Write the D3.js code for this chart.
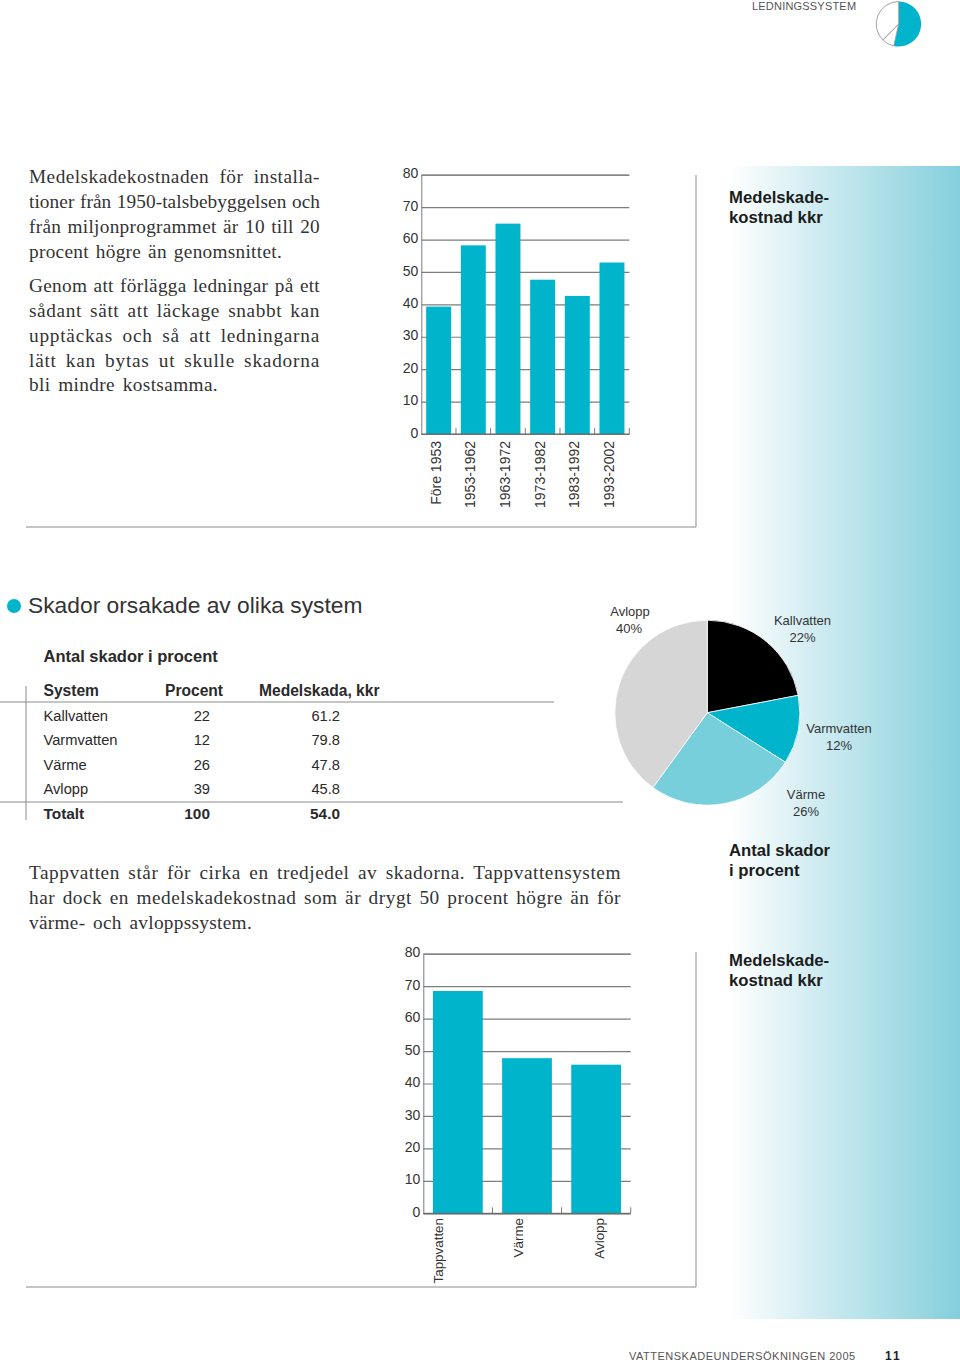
<!DOCTYPE html>
<html><head><meta charset="utf-8">
<script src="https://cdn.jsdelivr.net/npm/d3@7"></script>
<style>html,body{margin:0;padding:0;background:#fff}svg{display:block}
text{font-family:"Liberation Sans",Arial,sans-serif;fill:#2a2a2a}</style></head>
<body><div id="c"></div>
<script>
const periods=["Före 1953","1953-1962","1963-1972","1973-1982","1983-1992","1993-2002"];
const periodCost=[39.3,58.2,64.9,47.6,42.6,52.9];
const systems=["Tappvatten","Värme","Avlopp"];
const systemCost=[68.5,47.8,45.8];
const yTicks=[0,10,20,30,40,50,60,70,80];
const tableHead=["System","Procent","Medelskada, kkr"];
const tableNames=["Kallvatten","Varmvatten","Värme","Avlopp"];
const tablePct=[22,12,26,39];
const tableCost=["61.2","79.8","47.8","45.8"];
const tableTotal=["Totalt","100","54.0"];
const pieNames=["Kallvatten","Varmvatten","Värme","Avlopp"];
const pieShares=[22,12,26,40];
const miniShares=[53.5,9,37.5];
const para1=["Medelskadekostnaden för installa-","tioner från 1950-talsbebyggelsen och","från miljonprogrammet är 10 till 20","procent högre än genomsnittet."];
const para2=["Genom att förlägga ledningar på ett","sådant sätt att läckage snabbt kan","upptäckas och så att ledningarna","lätt kan bytas ut skulle skadorna","bli mindre kostsamma."];
const para3=["Tappvatten står för cirka en tredjedel av skadorna. Tappvattensystem","har dock en medelskadekostnad som är drygt 50 procent högre än för","värme- och avloppssystem."];

const W=960,H=1362,CY="#00b4cc",GRID="#7d7d7d",LINE="#8c8c8c";
const svg=d3.select("#c").append("svg").attr("width",W).attr("height",H);
const grad=svg.append("defs").append("linearGradient").attr("id","g");
grad.append("stop").attr("offset",0).attr("stop-color","#fff");
grad.append("stop").attr("offset",.35).attr("stop-color","#d3edf2");
grad.append("stop").attr("offset",1).attr("stop-color","#84cfdc");
svg.append("rect").attr("x",730).attr("y",166).attr("width",230).attr("height",1153).attr("fill","url(#g)");

function line(x1,y1,x2,y2,c=LINE,w=1){svg.append("line").attr("x1",x1).attr("y1",y1).attr("x2",x2).attr("y2",y2).attr("stroke",c).attr("stroke-width",w);}
function txt(s,x,y,o={}){const t=svg.append("text").attr("x",x).attr("y",y).text(s)
 .attr("font-size",o.size||14.7).attr("font-weight",o.bold?"bold":null).attr("text-anchor",o.anchor||"start");
 if(o.fill)t.style("fill",o.fill); if(o.ls)t.attr("letter-spacing",o.ls); if(o.serif)t.style("font-family",'"Liberation Serif",serif'); return t;}

function bars(cats,vals,box,labelDx,labelTop,labelSize){
  const x=d3.scaleBand().domain(cats).range([box.l,box.r]).paddingInner(.28).paddingOuter(.14);
  const y=d3.scaleLinear().domain([0,80]).range([box.b,box.t]);
  const g=svg.append("g");
  const ya=g.append("g").attr("transform",`translate(${box.l},0)`).call(d3.axisLeft(y).tickValues(yTicks).tickSize(-(box.r-box.l)).tickPadding(3));
  ya.select(".domain").attr("stroke",GRID);
  ya.selectAll(".tick line").attr("stroke",GRID).attr("stroke-width",1.2);
  ya.selectAll(".tick text").attr("font-size",14).attr("font-family",'"Liberation Sans"').attr("dy","0.22em").style("fill","#333");
  g.selectAll("rect").data(vals).join("rect").attr("x",(d,i)=>x(cats[i])).attr("width",x.bandwidth())
    .attr("y",d=>y(d)).attr("height",d=>box.b-y(d)).attr("fill",CY);
  const st=x.step();
  cats.forEach((c,i)=>{const bx=box.l+st*(i+1);g.append("line").attr("x1",bx).attr("x2",bx).attr("y1",box.b).attr("y2",box.b-6).attr("stroke",GRID);});
  g.append("line").attr("x1",box.l).attr("x2",box.r).attr("y1",box.b).attr("y2",box.b).attr("stroke","#666");
  cats.forEach((c,i)=>{
    const px=x(c)+x.bandwidth()/2+labelDx[i]+5;
    g.append("text").attr("transform",`translate(${px},${labelTop}) rotate(-90)`).attr("text-anchor","end")
     .attr("font-size",labelSize).text(c).style("fill","#333");
  });
}
bars(periods,periodCost,{l:421.3,r:629.3,t:174.7,b:434},periods.map(()=>-3),441,14);
bars(systems,systemCost,{l:423.3,r:630.7,t:953.7,b:1213.3},[-20,-9.5,3],1218,13.4);

// frames
line(696,175,696,527);line(26,527,696,527);
line(696,952,696,1287);line(26,1287,696,1287);

// body copy, fitted partly by tracking, partly by word spacing
function para(lines,x,y0,ends,size){
  lines.forEach((s,i)=>{const t=txt(s,x,y0+i*24.85,{size,serif:true,fill:"#333"});
    const n=s.split(" ").length-1,len=t.node().getComputedTextLength(),extra=ends[i]-x-len;
    t.attr("letter-spacing",extra*.6/s.length).attr("word-spacing",extra*.4/n);});
}
para(para1,29,183,[320,320,320,282],19.3);
para(para2,29,292,[320,320,320,320,218],19.3);
para(para3,29,879,[621,621,252],19.3);

// side titles
[["Medelskade-",203],["kostnad kkr",223],["Antal skador",856],["i procent",876],["Medelskade-",966],["kostnad kkr",986]]
 .forEach(d=>txt(d[0],729,d[1],{size:16.7,bold:true,fill:"#1c1c1c"}));

// heading
svg.append("circle").attr("cx",14).attr("cy",606).attr("r",7).attr("fill",CY);
txt("Skador orsakade av olika system",28,613,{size:22.8,fill:"#333"});
txt("Antal skador i procent",43.5,662,{size:16.5,bold:true});

// table
const rowY=d3.scalePoint().domain(d3.range(6)).range([696,819]);
const colP=210,colM=340;
txt(tableHead[0],43.5,rowY(0),{bold:true,size:15.6});
txt(tableHead[1],165,rowY(0),{bold:true,size:15.6});
txt(tableHead[2],259,rowY(0),{bold:true,size:15.6});
tableNames.forEach((n,i)=>{const y=rowY(i+1);
  txt(n,43.5,y);txt(tablePct[i],colP,y,{anchor:"end"});txt(tableCost[i],colM,y,{anchor:"end"});});
txt(tableTotal[0],43.5,rowY(5),{bold:true,size:15.4});txt(tableTotal[1],colP,rowY(5),{bold:true,size:15.4,anchor:"end"});txt(tableTotal[2],colM,rowY(5),{bold:true,size:15.4,anchor:"end"});
line(0,702,554,702);line(0,802,623,802);line(26,686,26,820);

// pie
const pieCols=["#000000",CY,"#78cfdc","#d6d6d6"];
const pie=d3.pie().sort(null);
const arc=d3.arc().innerRadius(0).outerRadius(92.5);
svg.append("g").attr("transform","translate(707.3,712.7)").selectAll("path").data(pie(pieShares)).join("path")
  .attr("d",arc).attr("fill",(d,i)=>pieCols[i]).attr("stroke","#fff").attr("stroke-width",.8);
const pl=[[802.5,625],[839,733],[806,799],[630,616]];
pieNames.forEach((n,i)=>{txt(n,pl[i][0],pl[i][1],{size:13,anchor:"middle",fill:"#333"});
  txt(pieShares[i]+"%",pl[i][0]+(i==3?-1:0),pl[i][1]+17,{size:13,anchor:"middle",fill:"#333"});});

// mini pie
const miniArc=d3.arc().innerRadius(0).outerRadius(22.5);
svg.append("g").attr("transform","translate(898.7,24)").selectAll("path").data(pie(miniShares)).join("path")
  .attr("d",miniArc).attr("fill",(d,i)=>i==0?CY:"#fff").attr("stroke",(d,i)=>i==0?"none":"#8a8a8a").attr("stroke-width",.8);

// running header/footer
txt("LEDNINGSSYSTEM",752,9.5,{size:11,ls:.2,fill:"#555"});
txt("VATTENSKADEUNDERSÖKNINGEN 2005",629,1359.5,{size:11,ls:.5,fill:"#555"});
txt("11",885,1359.5,{size:12,bold:true,ls:2,fill:"#222"});
</script></body></html>
